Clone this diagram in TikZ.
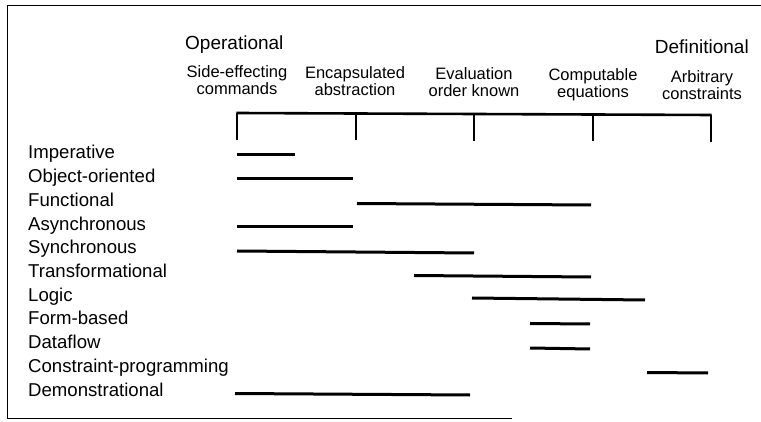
\documentclass[tikz,border=0pt]{standalone}
\usepackage{fontspec}
\setmainfont{Liberation Sans}
\begin{document}
\begin{tikzpicture}[x=1pt,y=-1pt,
  lab/.style={anchor=base west,inner sep=0pt,font=\fontsize{18.6}{20}\selectfont},
  head/.style={inner sep=0pt,font=\fontsize{19}{21}\selectfont},
  col/.style={anchor=north,align=center,inner sep=0pt,font=\fontsize{16.5}{17}\selectfont},
  bar/.style={line width=3pt},
  axisline/.style={line width=2.6pt},
  tickline/.style={line width=1.1pt},
  frameline/.style={line width=1.3pt}]
\useasboundingbox (0,0) rectangle (761,422);
% frame (open on the right, as printed)
\coordinate (fTR) at (761,5.5);
\coordinate (fTL) at (7.5,5.5);
\coordinate (fBL) at (7.5,418.5);
\coordinate (fBR) at (512,418.5);
\draw[frameline] (fTR) -- (fTL) -- (fBL) -- (fBR);
% headings
\node[head,anchor=base west] (oper) at (185,50) {Operational};
\node[head,anchor=base east] (defi) at (749,54) {Definitional};
% column labels
\node[col] (c1) at (237,65) {Side-effecting\\commands};
\node[col] (c2) at (355,66) {Encapsulated\\abstraction};
\node[col] (c3) at (474,67.5) {Evaluation\\order known};
\node[col] (c4) at (593,68.5) {Computable\\equations};
\node[col] (c5) at (702,70) {Arbitrary\\constraints};
% axis
\coordinate (a1) at (237,113);
\coordinate (a2) at (356,113.5);
\coordinate (a3) at (474,114);
\coordinate (a4) at (593,114.5);
\coordinate (a5) at (711,115);
\draw[axisline] ([xshift=-0.55pt]a1) -- ([xshift=0.55pt]a5);
\foreach \i in {1,...,5} {
  \draw[tickline] (a\i) -- ++(0,27);
}
% row labels
\node[lab] (r1) at (28,159) {Imperative};
\node[lab] (r2) at (28,182.7) {Object-oriented};
\node[lab] (r3) at (28,206.4) {Functional};
\node[lab] (r4) at (28,230.1) {Asynchronous};
\node[lab] (r5) at (28,253.8) {Synchronous};
\node[lab] (r6) at (28,277.5) {Transformational};
\node[lab] (r7) at (28,301.2) {Logic};
\node[lab] (r8) at (28,324.9) {Form-based};
\node[lab] (r9) at (28,348.6) {Dataflow};
\node[lab] (r10) at (28,372.3) {Constraint-programming};
\node[lab] (r11) at (28,396) {Demonstrational};
% bars
\draw[bar] (237,155) -- (295,155);
\draw[bar] (237,178.5) -- (353,178.5);
\draw[bar] (357,203.5) -- (591,205);
\draw[bar] (237,227) -- (353,227);
\draw[bar] (237,251) -- (474,253);
\draw[bar] (414,275.5) -- (591,277);
\draw[bar] (472,298) -- (645,300);
\draw[bar] (530,323.5) -- (590,324);
\draw[bar] (530,348) -- (590,349);
\draw[bar] (647,372.5) -- (708,373);
\draw[bar] (235,393.5) -- (470,395);
\end{tikzpicture}
\end{document}
